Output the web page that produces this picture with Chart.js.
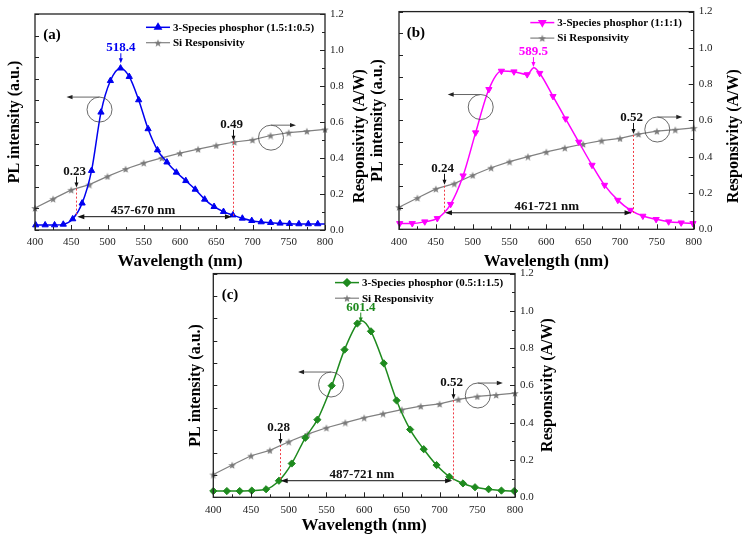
<!DOCTYPE html>
<html><head><meta charset="utf-8">
<script src="https://cdn.jsdelivr.net/npm/chart.js@4.4.1/dist/chart.umd.min.js"></script>
<style>
html,body{margin:0;padding:0;background:#fff;}
#wrap{position:relative;width:742px;height:539px;overflow:hidden;background:#fff;}
canvas{position:absolute;}
</style></head><body>
<div id="wrap">
<canvas id="ca" width="372" height="272" style="left:0px;top:0px"></canvas>
<canvas id="cb" width="376" height="272" style="left:366px;top:0px"></canvas>
<canvas id="cc" width="390" height="277" style="left:180px;top:262px"></canvas>
</div>
<script>
// ---------- data ----------
const wavelengthTicks = [400, 450, 500, 550, 600, 650, 700, 750, 800];
const wavelengthTickLabels = ['400', '450', '500', '550', '600', '650', '700', '750', '800'];
const wavelengthMinorTicks = [425, 475, 525, 575, 625, 675, 725, 775];
const respTicks = [0, 0.2, 0.4, 0.6, 0.8, 1.0, 1.2];
const respTickLabels = ['0.0', '0.2', '0.4', '0.6', '0.8', '1.0', '1.2'];
const respMinorTicks = [0.1, 0.3, 0.5, 0.7, 0.9, 1.1];
const plTicks = [0, 0.1, 0.2, 0.3, 0.4, 0.5, 0.6, 0.7, 0.8, 0.9, 1.0];

const siWavelength = [400, 425, 450, 475, 500, 525, 550, 575, 600, 625, 650, 675, 700, 725, 750, 775, 800];
const siResponsivity = [0.122, 0.173, 0.223, 0.252, 0.298, 0.339, 0.373, 0.401, 0.427, 0.449, 0.470, 0.489, 0.501, 0.525, 0.541, 0.549, 0.559];

const plA_wavelength = [401, 414, 427, 439, 452, 465, 478, 491, 504, 518, 530, 543, 556, 569, 582, 595, 608, 621, 634, 647, 660, 673, 686, 699, 712, 725, 738, 751, 764, 777, 790, 800];
const plA_intensity = [0.023, 0.023, 0.023, 0.026, 0.051, 0.124, 0.275, 0.545, 0.691, 0.749, 0.710, 0.602, 0.468, 0.370, 0.314, 0.267, 0.228, 0.188, 0.142, 0.108, 0.085, 0.069, 0.054, 0.043, 0.037, 0.034, 0.031, 0.029, 0.028, 0.028, 0.028, 0.028];

const plB_wavelength = [401, 418, 435, 452, 470, 487, 504, 522, 539, 556, 574, 583, 591, 609, 626, 644, 662, 679, 697, 714, 731, 749, 766, 783, 799];
const plB_intensity = [0.027, 0.027, 0.035, 0.050, 0.115, 0.246, 0.444, 0.643, 0.727, 0.724, 0.711, 0.742, 0.717, 0.611, 0.508, 0.401, 0.295, 0.203, 0.134, 0.088, 0.061, 0.046, 0.035, 0.030, 0.027];

const plC_wavelength = [400, 418, 435, 451, 470, 487, 504, 522, 538, 557, 574, 591, 597, 609, 626, 643, 661, 679, 696, 713, 731, 747, 765, 782, 799];
const plC_intensity = [0.028, 0.028, 0.028, 0.030, 0.036, 0.074, 0.151, 0.266, 0.347, 0.499, 0.660, 0.777, 0.789, 0.742, 0.599, 0.433, 0.303, 0.215, 0.144, 0.092, 0.062, 0.045, 0.036, 0.030, 0.028];

// ---------- rendering ----------
const F = "'Liberation Serif', 'Times New Roman', serif";
Chart.defaults.font.family = F;

function makeStar(size, color) {
  const c = document.createElement('canvas');
  c.width = size; c.height = size;
  const g = c.getContext('2d');
  g.fillStyle = color; g.beginPath();
  for (let k = 0; k < 10; k++) {
    const r = k % 2 ? size * 0.21 : size * 0.5;
    const ang = -Math.PI / 2 + k * Math.PI / 5;
    g.lineTo(size / 2 + r * Math.cos(ang), size / 2 + 0.5 + r * Math.sin(ang));
  }
  g.closePath(); g.fill();
  return c;
}
const siColor = '#808080';
const starImg = makeStar(8, '#7a7a7a');

function arrowHead(ctx, x, y, dx, dy, len, half) {
  ctx.beginPath();
  ctx.moveTo(x, y);
  ctx.lineTo(x - dx * len - dy * half, y - dy * len + dx * half);
  ctx.lineTo(x - dx * len + dy * half, y - dy * len - dx * half);
  ctx.closePath(); ctx.fill();
}
function arrow(ctx, x1, y1, x2, y2, len, half) {
  const L = Math.hypot(x2 - x1, y2 - y1), dx = (x2 - x1) / L, dy = (y2 - y1) / L;
  ctx.beginPath(); ctx.moveTo(x1, y1); ctx.lineTo(x2 - dx * len * 0.6, y2 - dy * len * 0.6); ctx.stroke();
  arrowHead(ctx, x2, y2, dx, dy, len, half);
}

function decorPlugin(p) {
  return {
    id: 'decor',
    afterDatasetsDraw(chart) {
      const ctx = chart.ctx, a = chart.chartArea;
      const sx = chart.scales.x, sl = chart.scales.yL, sr = chart.scales.yR;
      ctx.save();
      // red dotted guide lines
      const ry = sr.getPixelForValue(p.range.y);
      ctx.strokeStyle = '#f03c46'; ctx.lineWidth = 1; ctx.setLineDash([2, 2]);
      p.respMarks.forEach(m => {
        const px = Math.round(sx.getPixelForValue(m.wl)) + 0.5;
        ctx.beginPath(); ctx.moveTo(px, sr.getPixelForValue(m.val)); ctx.lineTo(px, ry); ctx.stroke();
      });
      ctx.setLineDash([]);
      // range double arrow
      ctx.strokeStyle = '#111'; ctx.fillStyle = '#111'; ctx.lineWidth = 1;
      const r1 = sx.getPixelForValue(p.respMarks[0].wl) + 1, r2 = sx.getPixelForValue(p.respMarks[1].wl) - 1;
      ctx.beginPath(); ctx.moveTo(r1 + 4, ry); ctx.lineTo(r2 - 4, ry); ctx.stroke();
      arrowHead(ctx, r1, ry, -1, 0, 7, 2.5); arrowHead(ctx, r2, ry, 1, 0, 7, 2.5);
      ctx.font = 'bold 13px ' + F; ctx.textAlign = 'center'; ctx.textBaseline = 'alphabetic';
      ctx.fillText(p.range.text, sx.getPixelForValue(p.range.textWl), ry - 3);
      // responsivity value arrows
      p.respMarks.forEach(m => {
        const px = Math.round(sx.getPixelForValue(m.wl)) + 0.5, tip = sr.getPixelForValue(m.val) - 1;
        arrow(ctx, px, tip - 11, px, tip, 5, 2);
        ctx.fillText(m.label, px - 2, tip - 13);
      });
      // peak label
      ctx.fillStyle = p.color; ctx.strokeStyle = p.color;
      const pk = sx.getPixelForValue(p.peak.wl), pt = sl.getPixelForValue(p.peak.tip);
      arrow(ctx, pk, pt - 10, pk, pt, 5, 2);
      ctx.fillText(p.peak.label, pk, pt - 12);
      // circles with axis-pointing arrows
      ctx.strokeStyle = '#444'; ctx.fillStyle = '#222'; ctx.lineWidth = 0.8;
      const R = 12.5;
      [['left', -33], ['right', 25]].forEach(([k, len]) => {
        const c = p.circles[k];
        const cx = sx.getPixelForValue(c.wl), cy = sr.getPixelForValue(c.val);
        ctx.beginPath(); ctx.arc(cx, cy, R, 0, Math.PI * 2); ctx.stroke();
        ctx.strokeStyle = '#666'; ctx.lineWidth = 1;
        arrow(ctx, cx, cy - R, cx + len, cy - R, 6, 2.2);
        ctx.strokeStyle = '#444'; ctx.lineWidth = 0.8;
      });
      // panel letter
      ctx.fillStyle = '#000'; ctx.font = 'bold 15px ' + F; ctx.textAlign = 'left'; ctx.textBaseline = 'middle';
      ctx.fillText(p.letter, a.left + p.letterPos.dx, a.top + p.letterPos.dy);
      // legend
      const lx = a.left + p.legend.dx;
      const rows = [
        { y: a.top + p.legend.dy1, color: p.color, text: p.legendText, pl: true },
        { y: a.top + p.legend.dy2, color: siColor, text: 'Si Responsivity', pl: false }
      ];
      rows.forEach(r => {
        ctx.strokeStyle = r.color; ctx.lineWidth = r.pl ? 1.5 : 1.2;
        ctx.beginPath(); ctx.moveTo(lx, r.y); ctx.lineTo(lx + 24, r.y); ctx.stroke();
        if (r.pl) {
          ctx.fillStyle = r.color; ctx.strokeStyle = r.color;
          Chart.helpers.drawPoint(ctx, { pointStyle: p.pointStyle, rotation: p.rotation, radius: p.pointRadius, borderWidth: 1 }, lx + 12, r.y);
        } else {
          ctx.drawImage(starImg, lx + 12 - 4, r.y - 4);
        }
        ctx.fillStyle = '#000'; ctx.font = 'bold 11px ' + F; ctx.textAlign = 'left'; ctx.textBaseline = 'middle';
        ctx.fillText(r.text, lx + 27, r.y + 0.5);
      });
      // frame and inward ticks
      ctx.strokeStyle = '#222'; ctx.lineWidth = 1.3;
      ctx.strokeRect(a.left, a.top, a.right - a.left, a.bottom - a.top);
      ctx.lineWidth = 1; ctx.beginPath();
      wavelengthTicks.forEach(v => { const px = Math.round(sx.getPixelForValue(v)) + 0.5; ctx.moveTo(px, a.bottom); ctx.lineTo(px, a.bottom - 5); });
      wavelengthMinorTicks.forEach(v => { const px = Math.round(sx.getPixelForValue(v)) + 0.5; ctx.moveTo(px, a.bottom); ctx.lineTo(px, a.bottom - 3); });
      plTicks.forEach(v => { const py = Math.round(sl.getPixelForValue(v)) + 0.5; ctx.moveTo(a.left, py); ctx.lineTo(a.left + 4, py); });
      respTicks.forEach(v => { const py = Math.round(sr.getPixelForValue(v)) + 0.5; ctx.moveTo(a.right, py); ctx.lineTo(a.right - 5, py); });
      respMinorTicks.forEach(v => { const py = Math.round(sr.getPixelForValue(v)) + 0.5; ctx.moveTo(a.right, py); ctx.lineTo(a.right - 3, py); });
      ctx.stroke();
      // right axis title (reads bottom-to-top)
      ctx.save();
      ctx.translate(p.rightTitle.x, p.rightTitle.y); ctx.rotate(-Math.PI / 2);
      ctx.fillStyle = '#000'; ctx.font = 'bold 16px ' + F; ctx.textAlign = 'center'; ctx.textBaseline = 'middle';
      ctx.fillText('Responsivity (A/W)', 0, 0);
      ctx.restore();
      ctx.restore();
    }
  };
}

function makePanel(p) {
  const plData = p.wl.map((w, i) => ({ x: w, y: p.pl[i] }));
  const siData = siWavelength.map((w, i) => ({ x: w, y: siResponsivity[i] }));
  new Chart(document.getElementById(p.canvas), {
    type: 'line',
    data: {
      datasets: [
        {
          label: p.legendText, data: plData, yAxisID: 'yL',
          borderColor: p.color, backgroundColor: p.color, borderWidth: 1.5,
          pointStyle: p.pointStyle, pointRotation: p.rotation,
          pointRadius: c => (c.raw && p.unmarked.includes(c.raw.x)) ? 0 : p.pointRadius,
          pointBorderWidth: 1, cubicInterpolationMode: 'monotone', clip: false
        },
        {
          label: 'Si Responsivity', data: siData, yAxisID: 'yR',
          borderColor: siColor, backgroundColor: siColor, borderWidth: 1.2,
          pointStyle: starImg, pointRadius: 4, tension: 0, clip: false
        }
      ]
    },
    options: {
      responsive: false, animation: false, devicePixelRatio: 1,
      layout: { padding: p.layout, autoPadding: false },
      plugins: { legend: { display: false }, tooltip: { enabled: false } },
      scales: {
        x: {
          type: 'linear', position: 'bottom', min: 400, max: 800,
          afterBuildTicks: s => { s.ticks = wavelengthTicks.map(v => ({ value: v })); },
          afterFit: s => { s.height = p.xH; },
          grid: { display: false, drawTicks: false }, border: { display: false },
          ticks: { font: { family: F, size: 11 }, color: '#222', padding: 6, maxRotation: 0, autoSkip: false,
                   callback: (v, i) => wavelengthTickLabels[i] },
          title: { display: true, text: 'Wavelength (nm)', color: '#000',
                   font: { family: F, size: 17, weight: 'bold' }, padding: { top: 0, bottom: 0 } }
        },
        yL: {
          type: 'linear', position: 'left', min: 0, max: 1,
          afterBuildTicks: s => { s.ticks = plTicks.map(v => ({ value: v })); },
          afterFit: s => { s.width = p.leftW; },
          grid: { display: false, drawTicks: false }, border: { display: false },
          ticks: { display: false },
          title: { display: true, text: 'PL intensity (a.u.)', color: '#000',
                   font: { family: F, size: 16, weight: 'bold' }, padding: { top: p.leftTitlePad, bottom: 0 } }
        },
        yR: {
          type: 'linear', position: 'right', min: 0, max: 1.2,
          afterBuildTicks: s => { s.ticks = respTicks.map(v => ({ value: v })); },
          afterFit: s => { s.width = p.rightW; },
          grid: { display: false, drawTicks: false }, border: { display: false },
          ticks: { font: { family: F, size: 11 }, color: '#222', padding: 5, callback: (v, i) => respTickLabels[i] }
        }
      }
    },
    plugins: [decorPlugin(p)]
  });
}

makePanel({
  canvas: 'ca', letter: '(a)', color: '#0000f0', pointStyle: 'triangle', rotation: 0, pointRadius: 3.6,
  legendText: '3-Species phosphor (1.5:1:0.5)',
  wl: plA_wavelength, pl: plA_intensity, unmarked: [800],
  layout: { top: 14, left: 0, right: 0, bottom: 0 }, leftW: 35, rightW: 47, xH: 42, leftTitlePad: 5.4,
  rightTitle: { x: 360, y: 136 },
  legend: { dx: 111, dy1: 13.3, dy2: 28.7 }, letterPos: { dx: 8.3, dy: 21 },
  peak: { label: '518.4', wl: 518.4, tip: 0.772 },
  respMarks: [{ wl: 457, val: 0.23, label: '0.23' }, { wl: 673, val: 0.49, label: '0.49' }],
  range: { y: 0.074, text: '457-670 nm', textWl: 549 },
  circles: { left: { wl: 489, val: 0.669 }, right: { wl: 725.5, val: 0.513 } }
});
makePanel({
  canvas: 'cb', letter: '(b)', color: '#ff00ff', pointStyle: 'triangle', rotation: 180, pointRadius: 3.6,
  legendText: '3-Species phosphor (1:1:1)',
  wl: plB_wavelength, pl: plB_intensity, unmarked: [583],
  layout: { top: 11, left: 0, right: 0, bottom: 0 }, leftW: 33, rightW: 48.3, xH: 42.7, leftTitlePad: 2.4,
  rightTitle: { x: 368, y: 136 },
  legend: { dx: 131.3, dy1: 11, dy2: 26.5 }, letterPos: { dx: 7.7, dy: 21.7 },
  peak: { label: '589.5', wl: 582.5, tip: 0.745 },
  respMarks: [{ wl: 461, val: 0.24, label: '0.24' }, { wl: 717, val: 0.52, label: '0.52' }],
  range: { y: 0.091, text: '461-721 nm', textWl: 600.5 },
  circles: { left: { wl: 510.9, val: 0.674 }, right: { wl: 750.6, val: 0.55 } }
});
makePanel({
  canvas: 'cc', letter: '(c)', color: '#1e8a1e', pointStyle: 'rectRot', rotation: 0, pointRadius: 3.6,
  legendText: '3-Species phosphor (0.5:1:1.5)',
  wl: plC_wavelength, pl: plC_intensity, unmarked: [597],
  layout: { top: 10.7, left: 0, right: 0, bottom: 3 }, leftW: 33.3, rightW: 55, xH: 38.7, leftTitlePad: 6.4,
  rightTitle: { x: 368, y: 123 },
  legend: { dx: 121.7, dy1: 9, dy2: 24.6 }, letterPos: { dx: 8.4, dy: 21.3 },
  peak: { label: '601.4', wl: 595.5, tip: 0.781 },
  respMarks: [{ wl: 488, val: 0.28, label: '0.28' }, { wl: 718, val: 0.52, label: '0.52' }],
  range: { y: 0.089, text: '487-721 nm', textWl: 597 },
  circles: { left: { wl: 556.1, val: 0.605 }, right: { wl: 750.7, val: 0.546 } }
});
</script>
</body></html>
